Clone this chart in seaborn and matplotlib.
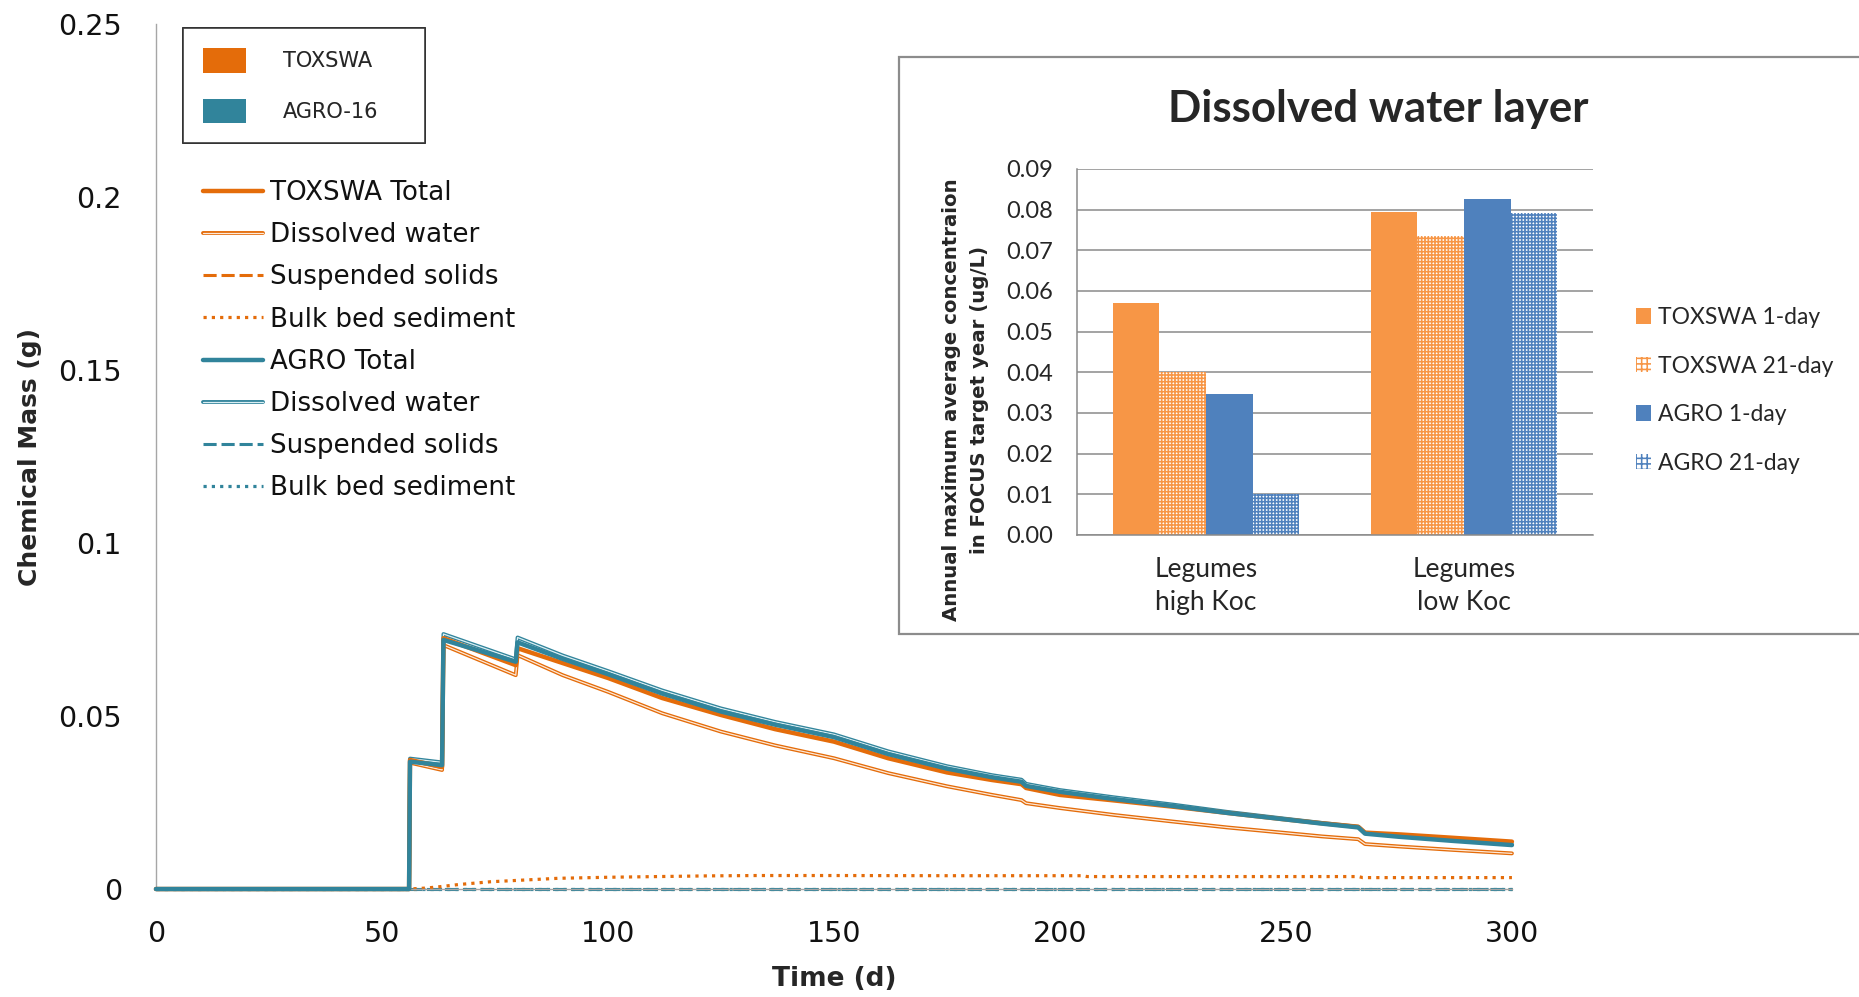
import numpy as np
import pandas as pd
import matplotlib
matplotlib.use("Agg")
import matplotlib.pyplot as plt
import matplotlib.patheffects as pe
from matplotlib.patches import Patch, Rectangle
from matplotlib.ticker import FormatStrFormatter
import seaborn as sns

# ---------------- main chart data ----------------
time_d = [0, 56, 56.2, 63.3, 63.6, 79.6, 80, 90, 100, 112, 125, 137, 150, 162, 175,
          185, 191.5, 192.5, 200, 212, 225, 237, 250, 258, 266, 267.5, 275, 287, 300]
toxswa_total = [0, 0, 0.0373, 0.0353, 0.0725, 0.0647, 0.0696, 0.0653, 0.0610, 0.0552,
                0.0503, 0.0462, 0.0426, 0.0378, 0.0337, 0.0315, 0.0303, 0.0292, 0.0272,
                0.0256, 0.0238, 0.0220, 0.0201, 0.0190, 0.0180, 0.0163, 0.0158, 0.0148, 0.0137]
toxswa_dissolved = [0, 0, 0.0365, 0.0344, 0.0705, 0.0618, 0.0676, 0.0618, 0.0570, 0.0508,
                    0.0455, 0.0415, 0.0378, 0.0335, 0.0297, 0.0272, 0.0257, 0.0248, 0.0234,
                    0.0214, 0.0195, 0.0178, 0.0162, 0.0152, 0.0144, 0.0130, 0.0123, 0.0113, 0.0103]
agro_total = [0, 0, 0.0368, 0.0358, 0.0720, 0.0657, 0.0713, 0.0665, 0.0621, 0.0565,
              0.0513, 0.0475, 0.0439, 0.0390, 0.0348, 0.0323, 0.0310, 0.0298, 0.0281,
              0.0260, 0.0240, 0.0220, 0.0201, 0.0189, 0.0178, 0.0160, 0.0151, 0.0139, 0.0127]
agro_dissolved = [0, 0, 0.0377, 0.0366, 0.0737, 0.0664, 0.0727, 0.0675, 0.0630, 0.0574,
                  0.0522, 0.0483, 0.0447, 0.0398, 0.0355, 0.0329, 0.0316, 0.0304, 0.0286,
                  0.0265, 0.0244, 0.0223, 0.0203, 0.0191, 0.0180, 0.0162, 0.0153, 0.0141, 0.0129]

sed_time = [0, 56, 60, 63, 67, 74, 81.5, 89, 100, 111, 122, 133, 150, 175, 205, 206,
            250, 266, 267, 300]
toxswa_bulk_sed = [0, 0, 0.0003, 0.0007, 0.0013, 0.0021, 0.0026, 0.0031, 0.0034, 0.0036,
                   0.0038, 0.0039, 0.0039, 0.00385, 0.00385, 0.0036, 0.0036, 0.0036, 0.0033, 0.0033]
susp_time = [0, 56, 300]
toxswa_susp = [0.0, 0.0, 0.0]
agro_susp = [0.0, 0.0, 0.0]
agro_bulk_sed = [0.0, 0.0, 0.0]

main_yticks = [0, 0.05, 0.1, 0.15, 0.2, 0.25]
main_ytick_labels = ["0", "0.05", "0.1", "0.15", "0.2", "0.25"]
main_xticks = [0, 50, 100, 150, 200, 250, 300]
main_xtick_labels = ["0", "50", "100", "150", "200", "250", "300"]

line_labels = ["TOXSWA Total", "Dissolved water", "Suspended solids", "Bulk bed sediment",
               "AGRO Total", "Dissolved water", "Suspended solids", "Bulk bed sediment"]
model_labels = ["TOXSWA", "AGRO-16"]

# ---------------- inset data ----------------
inset_categories = ["Legumes\nhigh Koc", "Legumes\nlow Koc"]
inset_series = ["TOXSWA 1-day", "TOXSWA 21-day", "AGRO 1-day", "AGRO 21-day"]
toxswa_1day = [0.057, 0.0794]
toxswa_21day = [0.040, 0.0736]
agro_1day = [0.0347, 0.0825]
agro_21day = [0.010, 0.0791]

# ---------------- style ----------------
sns.set_style("white")
plt.rcParams["font.family"] = ["DejaVu Sans"]
plt.rcParams["hatch.linewidth"] = 1.15

ORANGE = "#E46C0A"
TEAL = "#31849B"
BAR_OR = "#F79646"
BAR_BL = "#4F81BD"
GRAY = "#A6A6A6"

fig = plt.figure(figsize=(18.59, 9.97), dpi=100)
ax = fig.add_axes([0.0839, 0.1083, 0.7294, 0.8676])


def draw(x, y, color, lw, ls="-", z=2, inner=None):
    sns.lineplot(x=x, y=y, ax=ax, color=color, lw=lw, linestyle=ls,
                 estimator=None, sort=False, legend=False)
    ln = ax.lines[-1]
    ln.set_clip_on(False)
    ln.set_zorder(z)
    if inner is not None:
        ln.set_color(inner)
        ln.set_linewidth(0.9)
        ln.set_path_effects([pe.Stroke(linewidth=2.8, foreground=color), pe.Normal()])
    return ln


h_tox_diss = draw(time_d, toxswa_dissolved, ORANGE, 0.9, z=2.0, inner="#FDE9D9")
h_agro_diss = draw(time_d, agro_dissolved, TEAL, 0.9, z=2.1, inner="#DAEEF3")
h_tox_susp = draw(susp_time, toxswa_susp, ORANGE, 2.2, ls=(0, (4.3, 1.6)), z=2.2)
h_agro_bulk = draw(susp_time, agro_bulk_sed, TEAL, 2.3, ls=(0, (1, 1.6)), z=2.25)
h_agro_susp = draw(susp_time, agro_susp, TEAL, 2.2, ls=(0, (4.3, 1.6)), z=2.3)
h_tox_bulk = draw(sed_time, toxswa_bulk_sed, ORANGE, 2.3, ls=(0, (1, 1.6)), z=2.4)
h_tox_total = draw(time_d, toxswa_total, ORANGE, 3.2, z=3.0)
h_agro_total = draw(time_d, agro_total, TEAL, 3.2, z=3.1)

handles = [h_tox_total, h_tox_diss, h_tox_susp, h_tox_bulk,
           h_agro_total, h_agro_diss, h_agro_susp, h_agro_bulk]

ax.set_xlim(0, 300)
ax.set_ylim(0, 0.25)
ax.set_xticks(main_xticks)
ax.set_xticklabels(main_xtick_labels)
ax.set_yticks(main_yticks)
ax.set_yticklabels(main_ytick_labels)
for s in ["top", "right"]:
    ax.spines[s].set_visible(False)
for s in ["left", "bottom"]:
    ax.spines[s].set_color(GRAY)
    ax.spines[s].set_linewidth(1.0)
ax.tick_params(axis="both", direction="out", length=8.5, width=1.0, color=GRAY,
               labelsize=20.5, labelcolor="#111111")
ax.tick_params(axis="y", pad=16)
ax.tick_params(axis="x", pad=14)
ax.set_xlabel("Time (d)", fontsize=19, fontweight="bold", va="center")
ax.set_ylabel("Chemical Mass (g)", fontsize=18, fontweight="bold", va="center")
ax.xaxis.set_label_coords(0.5, -0.104)
ax.yaxis.set_label_coords(-0.093, 0.5)

# legend of line styles
leg2 = ax.legend(handles, line_labels, loc="upper left",
                 bbox_to_anchor=(0.1092, 0.8195), bbox_transform=fig.transFigure,
                 frameon=False, fontsize=18.8, handlelength=2.3, handletextpad=0.25,
                 labelspacing=0.62, borderpad=0, borderaxespad=0)
for t in leg2.get_texts():
    t.set_color("#111111")
ax.add_artist(leg2)

# legend of models (filled patches in a black frame)
model_handles = [Patch(facecolor=ORANGE, edgecolor="none"),
                 Patch(facecolor=TEAL, edgecolor="none")]
leg1 = ax.legend(model_handles, model_labels, loc="upper left",
                 bbox_to_anchor=(0.0984, 0.856, 0.1302, 0.1159),
                 bbox_transform=fig.transFigure, mode="expand",
                 prop={"size": 15}, handlelength=2.1, handleheight=1.45,
                 handletextpad=1.75, labelspacing=1.25, borderpad=0.95,
                 borderaxespad=0, fancybox=False, frameon=True)
leg1.get_frame().set_edgecolor("#1a1a1a")
leg1.get_frame().set_linewidth(1.2)
ax.add_artist(leg1)

# ---------------- inset ----------------
box = Rectangle((0.4836, 0.3641), 0.60, 0.5787, transform=fig.transFigure,
                facecolor="white", edgecolor="#8C8C8C", lw=1.6, zorder=5)
fig.add_artist(box)

iax = fig.add_axes([0.5793, 0.4634, 0.2776, 0.3671], zorder=6)
df = pd.DataFrame({
    "category": inset_categories * 4,
    "series": [s for s in inset_series for _ in inset_categories],
    "value": toxswa_1day + toxswa_21day + agro_1day + agro_21day,
})
bar_colors = [BAR_OR, BAR_OR, BAR_BL, BAR_BL]
sns.barplot(data=df, x="category", y="value", hue="series", hue_order=inset_series,
            order=inset_categories, palette=bar_colors, saturation=1, width=0.724,
            ax=iax, legend=False, errorbar=None)
for i, cont in enumerate(iax.containers):
    for bar in cont:
        bar.set_linewidth(0)
        if "21-day" in inset_series[i]:
            bar.set_facecolor("white")
            bar.set_edgecolor(bar_colors[i])
            bar.set_hatch("+++++")

iax.set_xlim(-0.5, 1.5)
iax.set_ylim(0, 0.09)
iax.set_yticks(np.linspace(0, 0.09, 10))
iax.yaxis.set_major_formatter(FormatStrFormatter("%.2f"))
iax.set_xticks([-0.5, 0.5, 1.5])
iax.set_xticklabels(["", "", ""])
iax.set_xticks([0, 1], minor=True)
iax.set_xticklabels(inset_categories, minor=True, fontsize=19, family="Lato",
                    linespacing=1.4)
iax.tick_params(axis="x", which="minor", length=0, pad=16)
iax.tick_params(axis="x", which="major", length=8, color="#8a8a8a", width=1.1)
iax.tick_params(axis="y", length=7, color="#8a8a8a", width=1.1, pad=10)
for lab in iax.get_yticklabels():
    lab.set_family("Lato")
    lab.set_fontsize(17)
iax.set_xlabel("")
iax.set_ylabel("")
iax.yaxis.grid(True, color="#8a8a8a", lw=1.1)
iax.set_axisbelow(True)
for s in ["top", "right"]:
    iax.spines[s].set_visible(False)
for s in ["left", "bottom"]:
    iax.spines[s].set_color("#8a8a8a")
    iax.spines[s].set_linewidth(1.1)
iax.set_facecolor("none")

fig.text(0.7413, 0.8907, "Dissolved water layer", family="Lato", fontweight="bold",
         fontsize=31.5, ha="center", va="center", zorder=7)
fig.text(0.5195, 0.599, "Annual maximum average concentraion\nin FOCUS target year (ug/L)",
         rotation=90, ha="center", va="center", fontsize=14.2, fontweight="bold",
         linespacing=1.6, multialignment="center", zorder=7)

inset_handles = [
    Patch(facecolor=BAR_OR, edgecolor="none"),
    Patch(facecolor="white", edgecolor=BAR_OR, hatch="+++", lw=0),
    Patch(facecolor=BAR_BL, edgecolor="none"),
    Patch(facecolor="white", edgecolor=BAR_BL, hatch="+++", lw=0),
]
ileg = fig.legend(inset_handles, inset_series, loc="upper left",
                  bbox_to_anchor=(0.880, 0.692), frameon=False,
                  prop={"family": "Lato", "size": 16.5}, handlelength=0.65,
                  handleheight=0.65, handletextpad=0.3, labelspacing=1.2,
                  borderpad=0, borderaxespad=0)
ileg.set_zorder(8)

fig.savefig("out.png", dpi=100, facecolor="white")
